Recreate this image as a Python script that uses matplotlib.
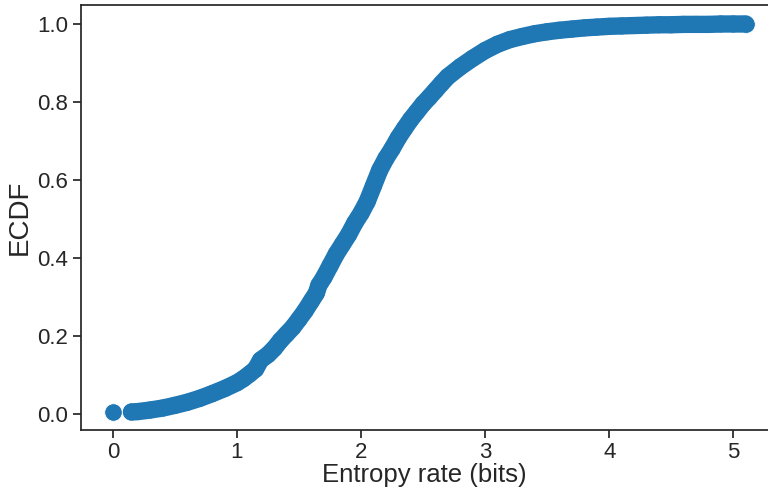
import matplotlib
matplotlib.use('Agg')
from matplotlib import pyplot as plt

# ECDF points
x_single = [0.0]
y_single = [0.004]

entropy = [0.15, 0.2, 0.3, 0.4, 0.5, 0.6, 0.7, 0.8, 0.9, 1.0,
           1.05, 1.1, 1.15, 1.19, 1.25, 1.3, 1.35, 1.4, 1.45, 1.5,
           1.55, 1.6, 1.64, 1.66, 1.7, 1.75, 1.8, 1.85, 1.9, 1.95,
           2.0, 2.05, 2.1, 2.15, 2.2, 2.25, 2.3, 2.35, 2.4, 2.45,
           2.5, 2.55, 2.6, 2.65, 2.7, 2.8, 2.9, 3.0, 3.1, 3.2,
           3.3, 3.4, 3.5, 3.6, 3.7, 3.8, 3.9, 4.0, 4.1, 4.2,
           4.3, 4.4, 4.5, 4.6, 4.7, 4.8, 4.9, 5.0, 5.1]
ecdf = [0.005, 0.006, 0.010, 0.015, 0.022, 0.030, 0.040, 0.052, 0.065, 0.080,
        0.090, 0.102, 0.115, 0.138, 0.152, 0.168, 0.188, 0.205, 0.222, 0.243,
        0.265, 0.290, 0.310, 0.330, 0.350, 0.380, 0.410, 0.435, 0.460, 0.490,
        0.515, 0.545, 0.585, 0.625, 0.655, 0.680, 0.708, 0.732, 0.755, 0.775,
        0.795, 0.812, 0.830, 0.848, 0.865, 0.890, 0.912, 0.932, 0.948, 0.960,
        0.968, 0.975, 0.980, 0.984, 0.987, 0.990, 0.992, 0.994, 0.995, 0.996,
        0.997, 0.998, 0.998, 0.999, 0.999, 0.999, 1.0, 1.0, 1.0]

plt.rcParams['font.family'] = ['Liberation Sans', 'DejaVu Sans']
dark = '#262626'
blue = '#1f77b4'

fig = plt.figure(figsize=(7.68, 4.88), dpi=100)
ax = fig.add_axes([0.105, 0.119, 0.895, 0.871])

# dense scatter of many points -> shown as a thick band through the read points
ax.plot(entropy, ecdf, color=blue, lw=12.5, solid_capstyle='round',
        solid_joinstyle='round')
ax.scatter(entropy, ecdf, s=150, color=blue, edgecolors='none')
ax.scatter(x_single, y_single, s=160, color=blue, edgecolors='white',
           linewidths=0.6)
ax.scatter(entropy[-1:], ecdf[-1:], s=160, color=blue, edgecolors='white',
           linewidths=0.6)

ax.set_xlim(-0.26, 5.28)
ax.set_ylim(-0.041, 1.049)
ax.set_xticks([0, 1, 2, 3, 4, 5])
ax.set_yticks([0.0, 0.2, 0.4, 0.6, 0.8, 1.0])
ax.set_yticklabels(['0.0', '0.2', '0.4', '0.6', '0.8', '1.0'])

ax.spines['right'].set_visible(False)
for s in ['left', 'bottom', 'top']:
    ax.spines[s].set_color(dark)
    ax.spines[s].set_linewidth(1.25)

ax.tick_params(direction='out', length=6, width=1.25, color=dark,
               labelcolor=dark, labelsize=16, pad=3)
ax.set_xlabel('Entropy rate (bits)', fontsize=18.5, color=dark, labelpad=0)
ax.set_ylabel('ECDF', fontsize=20, color=dark, labelpad=3)

fig.savefig('out.png', dpi=100)
